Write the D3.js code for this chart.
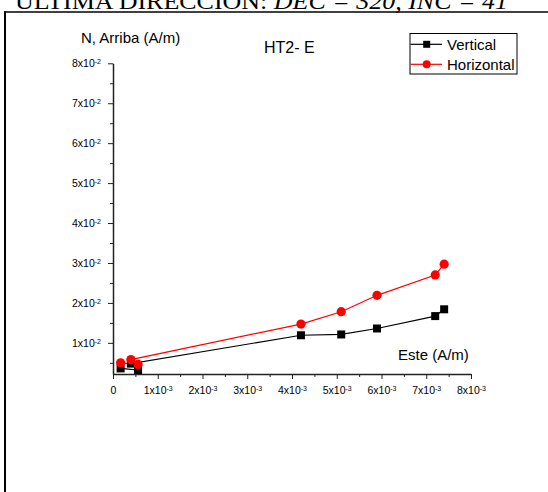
<!DOCTYPE html>
<html><head><meta charset="utf-8">
<script src="https://cdn.jsdelivr.net/npm/d3@7"></script>
<style>
html,body{margin:0;padding:0;background:#fff;}
svg{display:block;}
text{font-family:Arial,"Liberation Sans",sans-serif;}
</style></head>
<body>
<script>
// ---- data (in plotted order) ----
const verticalX = [0.00017, 0.00056, 0.00040, 0.0042, 0.0051, 0.0059, 0.0072, 0.0074];
const verticalY = [0.0036, 0.0032, 0.0048, 0.0119, 0.0121, 0.0136, 0.0167, 0.0184];
const horizontalX = [0.00017, 0.00056, 0.00040, 0.0042, 0.0051, 0.0059, 0.0072, 0.0074];
const horizontalY = [0.0050, 0.0046, 0.0058, 0.0147, 0.0178, 0.0219, 0.0270, 0.0297];
const xTickValues = [0, 0.001, 0.002, 0.003, 0.004, 0.005, 0.006, 0.007, 0.008];
const xTickMant = ["0", "1x10", "2x10", "3x10", "4x10", "5x10", "6x10", "7x10", "8x10"];
const xTickExp = ["", "-3", "-3", "-3", "-3", "-3", "-3", "-3", "-3"];
const yTickValues = [0.01, 0.02, 0.03, 0.04, 0.05, 0.06, 0.07, 0.08];
const yTickMant = ["1x10", "2x10", "3x10", "4x10", "5x10", "6x10", "7x10", "8x10"];
const yTickExp = ["-2", "-2", "-2", "-2", "-2", "-2", "-2", "-2"];
const seriesNames = ["Vertical", "Horizontal"];
const headerText = "ULTIMA DIRECCION: ";
const headerItalic = "DEC = 320, INC = 41";

const W = 548, H = 492;
const svg = d3.select("body").append("svg").attr("width", W).attr("height", H);

// header (partly cut off at top, as in the reference)
const hdr = svg.append("text").attr("x", 15).attr("y", 9)
  .attr("textLength", 493).attr("lengthAdjust", "spacingAndGlyphs")
  .style("font-family", "'Liberation Serif','Times New Roman',serif").style("font-size", "24px").attr("fill", "#000");
hdr.append("tspan").text(headerText);
hdr.append("tspan").style("font-style", "italic").text(headerItalic);

// frame lines
svg.append("line").attr("x1", 4).attr("x2", W).attr("y1", 12).attr("y2", 12).attr("stroke", "#000").attr("stroke-width", 1.6);
svg.append("line").attr("x1", 5).attr("x2", 5).attr("y1", 11.2).attr("y2", H).attr("stroke", "#000").attr("stroke-width", 2);

// scales
const x = d3.scaleLinear().domain([0, 0.008]).range([113, 471]);
const y = d3.scaleLinear().domain([0.0022, 0.08]).range([374, 63.3]);

const axisColor = "#222";
// minor ticks
const xMinor = d3.range(1, 16, 2).map(i => i * 0.0005);
const yMinor = d3.range(1, 16, 2).map(i => i * 0.005);
svg.append("g").attr("transform", "translate(0,374)")
  .call(d3.axisBottom(x).tickValues(xMinor).tickSize(3).tickFormat(""))
  .call(g => g.select(".domain").remove())
  .call(g => g.selectAll("line").attr("stroke", axisColor).attr("stroke-width", 1));
svg.append("g").attr("transform", "translate(113,0)")
  .call(d3.axisLeft(y).tickValues(yMinor).tickSize(3).tickFormat(""))
  .call(g => g.select(".domain").remove())
  .call(g => g.selectAll("line").attr("stroke", axisColor).attr("stroke-width", 1));

// major axes
const gx = svg.append("g").attr("transform", "translate(0,374)")
  .call(d3.axisBottom(x).tickValues(xTickValues).tickSize(5).tickSizeOuter(0).tickPadding(8)
    .tickFormat((d, i) => xTickMant[i]));
gx.select(".domain").attr("stroke", axisColor).attr("stroke-width", 1.5);
gx.selectAll("line").attr("stroke", axisColor).attr("stroke-width", 1);
gx.selectAll("text").attr("fill", "#000").style("font-size", "10.5px").attr("dy", "0.71em")
  .each(function(d, i) {
    if (xTickExp[i]) d3.select(this).append("tspan").attr("dy", "-0.45em").style("font-size", "7px").text(xTickExp[i]);
  });

const gy = svg.append("g").attr("transform", "translate(113,0)")
  .call(d3.axisLeft(y).tickValues(yTickValues).tickSize(5).tickSizeOuter(0).tickPadding(7)
    .tickFormat((d, i) => yTickMant[i]));
gy.select(".domain").attr("stroke", axisColor).attr("stroke-width", 1.5);
gy.selectAll("line").attr("stroke", axisColor).attr("stroke-width", 1);
gy.selectAll("text").attr("fill", "#000").style("font-size", "10.5px")
  .each(function(d, i) {
    d3.select(this).append("tspan").attr("dy", "-0.45em").style("font-size", "7px").text(yTickExp[i]);
  });

// axis titles
svg.append("text").attr("x", 81).attr("y", 43).style("font-size", "15px").attr("fill", "#000").text("N, Arriba (A/m)");
svg.append("text").attr("x", 264).attr("y", 53).style("font-size", "16px").attr("fill", "#000").text("HT2- E");
svg.append("text").attr("x", 398).attr("y", 360).style("font-size", "15px").attr("fill", "#000").text("Este (A/m)");

// series
const line = d3.line().x(d => x(d[0])).y(d => y(d[1]));
const vData = verticalX.map((v, i) => [v, verticalY[i]]);
const hData = horizontalX.map((v, i) => [v, horizontalY[i]]);

svg.append("path").datum(vData).attr("d", line).attr("fill", "none").attr("stroke", "#000").attr("stroke-width", 1.2);
svg.append("path").datum(hData).attr("d", line).attr("fill", "none").attr("stroke", "#ff0000").attr("stroke-width", 1.2);

const sq = 8;
svg.append("g").selectAll("rect").data(vData).join("rect")
  .attr("x", d => x(d[0]) - sq / 2).attr("y", d => y(d[1]) - sq / 2)
  .attr("width", sq).attr("height", sq).attr("fill", "#000");
svg.append("g").selectAll("circle").data(hData).join("circle")
  .attr("cx", d => x(d[0])).attr("cy", d => y(d[1])).attr("r", 4.6).attr("fill", "#ff0000");

// legend
const lg = svg.append("g");
lg.append("rect").attr("x", 410).attr("y", 33.5).attr("width", 107).attr("height", 40.5)
  .attr("fill", "#fff").attr("stroke", "#000").attr("stroke-width", 1);
const rows = [{y: 44.3, c: "#000", shape: "sq"}, {y: 64.3, c: "#ff0000", shape: "ci"}];
rows.forEach((r, i) => {
  lg.append("line").attr("x1", 410.5).attr("x2", 442).attr("y1", r.y).attr("y2", r.y).attr("stroke", r.c).attr("stroke-width", 1.2);
  if (r.shape === "sq") lg.append("rect").attr("x", 426.7 - 3.5).attr("y", r.y - 3.5).attr("width", 7).attr("height", 7).attr("fill", r.c);
  else lg.append("circle").attr("cx", 426.7).attr("cy", r.y).attr("r", 4).attr("fill", r.c);
  lg.append("text").attr("x", 447).attr("y", r.y + 5.7).style("font-size", "15px").attr("fill", "#000").text(seriesNames[i]);
});
</script>
</body></html>
